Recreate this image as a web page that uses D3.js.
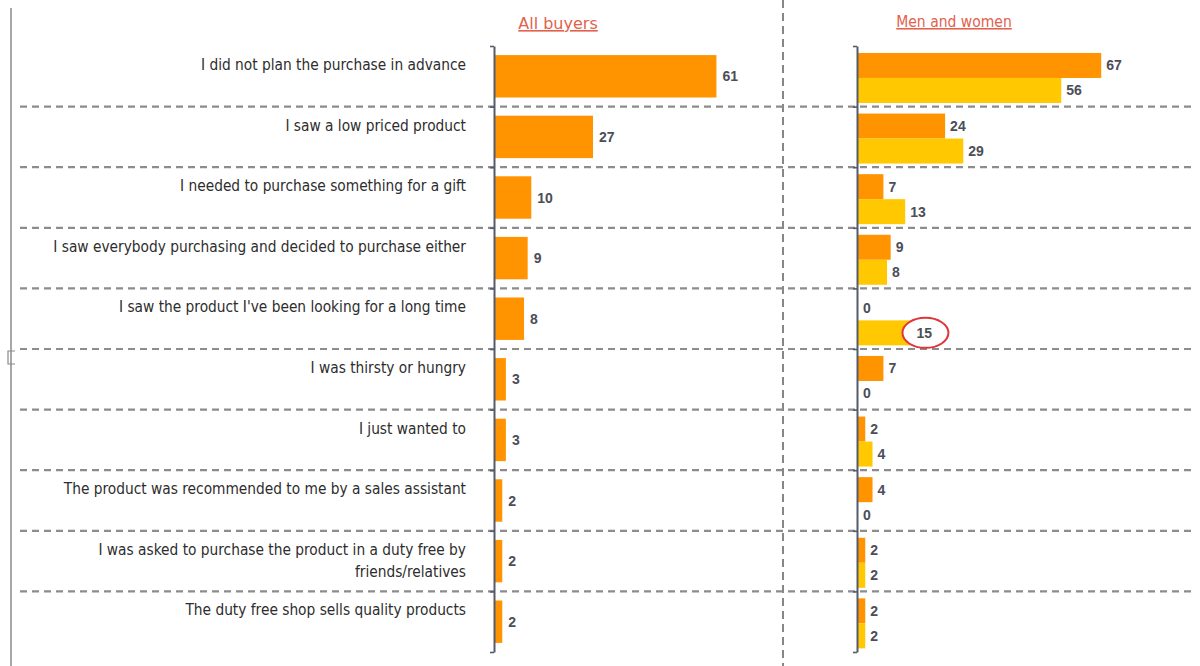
<!DOCTYPE html>
<html>
<head>
<meta charset="utf-8">
<script src="https://cdn.jsdelivr.net/npm/d3@7"></script>
<style>
  html, body { margin: 0; padding: 0; background: #fff; }
  svg { display: block; }
</style>
</head>
<body>
<svg id="chart" width="1200" height="666"></svg>
<script>
// Reasons for an impulse purchase in a duty free shop, % of respondents
const categories = [
  ["I did not plan the purchase in advance"],
  ["I saw a low priced product"],
  ["I needed to purchase something for a gift"],
  ["I saw everybody purchasing and decided to purchase either"],
  ["I saw the product I've been looking for a long time"],
  ["I was thirsty or hungry"],
  ["I just wanted to"],
  ["The product was recommended to me by a sales assistant"],
  ["I was asked to purchase the product in a duty free by", "friends/relatives"],
  ["The duty free shop sells quality products"]
];
const allBuyers = [61, 27, 10, 9, 8, 3, 3, 2, 2, 2];
const men       = [67, 24, 7, 9, 0, 7, 2, 4, 2, 2];
const women     = [56, 29, 13, 8, 15, 0, 4, 0, 2, 2];
const panelTitles = ["All buyers", "Men and women"];
const seriesNames = ["men", "women"];
const circledRow = 4;          // women's answer picked out with a red ring
const circledSeries = "women";

const W = 1200, H = 666;
const svg = d3.select("#chart");
const orange = "#ff9300", yellow = "#ffc800";
const textFont = "'DejaVu Sans Condensed', 'DejaVu Sans', sans-serif";
const valueFont = "'Liberation Sans', Arial, sans-serif";

// rows
const y = d3.scaleBand().domain(d3.range(categories.length)).range([46, 652]).padding(0);
const bw = y.bandwidth();
const rowEdge = d3.scaleLinear().domain([0, categories.length]).range([46, 652]);

// value scales for the two panels
const xAll = d3.scaleLinear().domain([0, 100]).range([495, 495 + 363]);
const xMW  = d3.scaleLinear().domain([0, 100]).range([858, 858 + 363]);
const ySub = d3.scaleBand().domain(seriesNames).range([bw * 0.115, bw * 0.94]).padding(0);

// page frame line on the left with its small bracket
svg.append("line").attr("x1", 11).attr("x2", 11).attr("y1", 8).attr("y2", H)
  .attr("stroke", "#8a8a8a").attr("stroke-width", 1.5);
svg.append("path").attr("d", "M15,351 H8 V364 H15")
  .attr("fill", "none").attr("stroke", "#8a8a8a").attr("stroke-width", 1.2);

// vertical divider between panels
svg.append("line").attr("x1", 783).attr("x2", 783).attr("y1", 0).attr("y2", H)
  .attr("stroke", "#6a6a6a").attr("stroke-width", 1.6).attr("stroke-dasharray", "8,5");

// dashed separators between rows
svg.append("g").selectAll("line")
  .data(d3.range(1, categories.length))
  .join("line")
  .attr("x1", 20).attr("x2", 1196)
  .attr("y1", d => rowEdge(d)).attr("y2", d => rowEdge(d))
  .attr("stroke", "#8c8c8c").attr("stroke-width", 2.2)
  .attr("stroke-dasharray", "7,5");

// panel titles
const titles = svg.append("g");
titles.append("text").attr("x", 558).attr("y", 29).attr("text-anchor", "middle")
  .attr("font-family", "'DejaVu Sans', sans-serif").attr("font-size", 16)
  .attr("fill", "#e2614c").attr("text-decoration", "underline").text(panelTitles[0]);
titles.append("text").attr("x", 954).attr("y", 27).attr("text-anchor", "middle")
  .attr("font-family", textFont).attr("font-size", 15.5)
  .attr("fill", "#e2614c").attr("text-decoration", "underline").text(panelTitles[1]);

// category labels, right aligned against the first axis
const lab = svg.append("g").selectAll("text")
  .data(categories)
  .join("text")
  .attr("x", 466)
  .attr("y", (d, i) => y(i) + 24)
  .attr("text-anchor", "end")
  .attr("font-family", textFont).attr("font-size", 15.3).attr("fill", "#2d2d2d");
lab.selectAll("tspan").data(d => d).join("tspan")
  .attr("x", 466).attr("dy", (d, j) => j === 0 ? 0 : 22).text(d => d);

// All buyers bars
const gAll = svg.append("g");
gAll.selectAll("rect").data(allBuyers).join("rect")
  .attr("x", xAll(0)).attr("y", (d, i) => y(i) + bw * 0.15)
  .attr("width", d => xAll(d) - xAll(0)).attr("height", bw * 0.7)
  .attr("fill", orange);
gAll.selectAll("text").data(allBuyers).join("text")
  .attr("x", d => xAll(d) + 6).attr("y", (d, i) => y(i) + bw / 2 + 5)
  .attr("font-family", valueFont).attr("font-weight", "bold").attr("font-size", 14)
  .attr("fill", "#4c4e57").text(d => d);

// Men and women bars
const pairs = men.map((m, i) => ({ i, men: m, women: women[i] }));
const items = pairs.flatMap(d => seriesNames.map(s => ({ i: d.i, s, v: d[s] })));
const gMW = svg.append("g");
gMW.selectAll("rect").data(items).join("rect")
  .attr("x", xMW(0)).attr("y", d => y(d.i) + ySub(d.s))
  .attr("width", d => xMW(d.v) - xMW(0)).attr("height", ySub.bandwidth())
  .attr("fill", d => d.s === "men" ? orange : yellow);

// ring around the highlighted label
const ringX = xMW(women[circledRow]) + 13;
const ringY = y(circledRow) + ySub(circledSeries) + ySub.bandwidth() / 2;
gMW.append("ellipse").attr("cx", ringX).attr("cy", ringY)
  .attr("rx", 23).attr("ry", 15)
  .attr("fill", "#fff").attr("stroke", "#e0353a").attr("stroke-width", 2);

gMW.append("g").selectAll("text").data(items).join("text")
  .attr("x", d => xMW(d.v) + (d.i === circledRow && d.s === circledSeries ? 4 : 5))
  .attr("y", d => y(d.i) + ySub(d.s) + ySub.bandwidth() / 2 + 5)
  .attr("font-family", valueFont).attr("font-weight", "bold").attr("font-size", 14)
  .attr("fill", "#4c4e57").text(d => d.v);

// axes: ticks at the row boundaries, no labels
function drawAxis(x0) {
  const ax = d3.axisLeft(rowEdge).tickValues(d3.range(0, categories.length + 1))
    .tickSize(4).tickSizeOuter(0).tickFormat("");
  const g = svg.append("g").attr("transform", `translate(${x0},0)`).call(ax);
  g.select(".domain").attr("stroke", "#555b68").attr("stroke-width", 2);
  g.selectAll(".tick line").attr("stroke", "#555b68").attr("stroke-width", 1.6);
}
drawAxis(494);
drawAxis(857);
</script>
</body>
</html>
